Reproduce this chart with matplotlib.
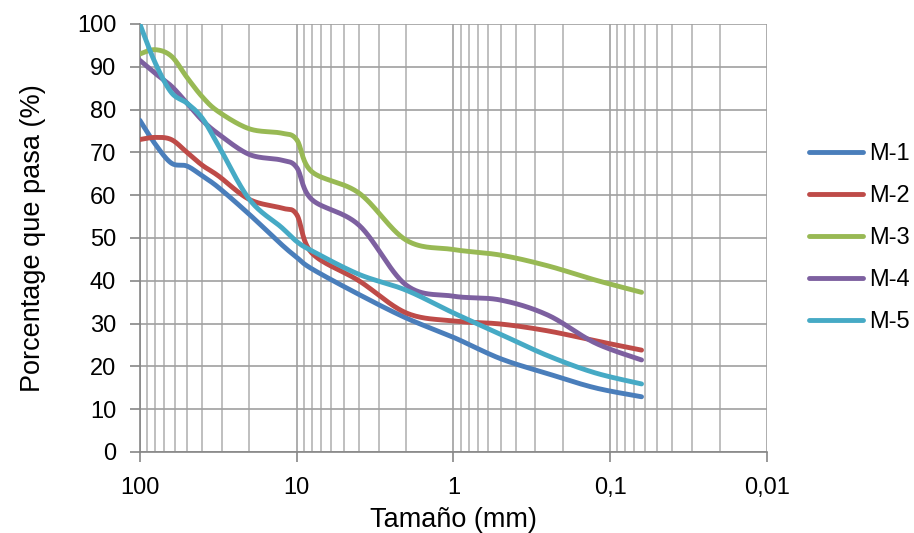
import numpy as np
import matplotlib
matplotlib.use('Agg')
import matplotlib.pyplot as plt
from matplotlib.ticker import FixedLocator, FixedFormatter, LogLocator, NullFormatter

plt.rcParams['font.family'] = ['Liberation Sans', 'DejaVu Sans']

# Sieve sizes (mm) and percentage passing for each mix
sizes = [100, 80, 63, 50, 40, 31.5, 20, 12.5, 10, 8, 4, 2, 1, 0.5, 0.25, 0.125, 0.063]
m1 = [77.5, 72, 67.5, 66.8, 64.5, 61.8, 55.5, 48.5, 45.5, 42.8, 36.8, 31.3, 26.8, 21.8, 18.3, 15, 12.9]
m2 = [73, 73.5, 73, 70, 67, 64.5, 59, 57, 55.5, 46.5, 40, 32.5, 30.6, 29.9, 28.3, 26, 23.8]
m3 = [93, 94, 92.5, 87.5, 83, 79.5, 75.5, 74.5, 73, 65.5, 60.5, 49.5, 47.3, 46, 43.5, 40.2, 37.3]
m4 = [91.5, 88.5, 85.5, 81.5, 77.5, 74.3, 69.5, 68.2, 66.5, 59, 53, 39, 36.4, 35.5, 32, 25.5, 21.5]
m5 = [100, 91, 84, 81.5, 78, 71.6, 59, 52.5, 49.2, 47, 41.5, 37.8, 32.5, 27.5, 22.5, 18.5, 15.9]

labels = ['M-1', 'M-2', 'M-3', 'M-4', 'M-5']
colors = ['#4A7EBB', '#BE4B48', '#98B954', '#7D60A0', '#46AAC5']


def smooth_curve(x, y, n=30):
    # Excel-like smoothed line: Catmull-Rom bezier in (log x, y) scaled to screen proportions
    u = (2 - np.log10(np.asarray(x, dtype=float))) * 157.0
    v = np.asarray(y, dtype=float) * 4.28
    pts = np.column_stack([u, v])
    out = []
    for i in range(len(pts) - 1):
        p0 = pts[i - 1] if i > 0 else pts[i]
        p1 = pts[i]
        p2 = pts[i + 1]
        p3 = pts[i + 2] if i + 2 < len(pts) else pts[i + 1]
        c1 = p1 + (p2 - p0) / 6.0
        c2 = p2 - (p3 - p1) / 6.0
        t = np.linspace(0, 1, n, endpoint=False)[:, None]
        seg = ((1 - t) ** 3) * p1 + 3 * ((1 - t) ** 2) * t * c1 + 3 * (1 - t) * t ** 2 * c2 + t ** 3 * p2
        out.append(seg)
    out.append(pts[-1:])
    out = np.vstack(out)
    return 10 ** (2 - out[:, 0] / 157.0), out[:, 1] / 4.28


fig = plt.figure(figsize=(9.14, 5.33), dpi=100)
ax = fig.add_axes([0.153, 0.152, 0.686, 0.803])

for series, label, color in zip([m1, m2, m3, m4, m5], labels, colors):
    xs, ys = smooth_curve(sizes, series)
    ax.plot(xs, ys, color=color, lw=3.5, label=label, solid_capstyle='round', zorder=3)

ax.set_xscale('log')
ax.set_xlim(100, 0.01)
ax.set_ylim(0, 100)

ax.xaxis.set_major_locator(FixedLocator([100, 10, 1, 0.1, 0.01]))
ax.xaxis.set_major_formatter(FixedFormatter(['100', '10', '1', '0,1', '0,01']))
ax.xaxis.set_minor_locator(LogLocator(base=10, subs=np.arange(2, 10)))
ax.xaxis.set_minor_formatter(NullFormatter())
ax.set_yticks(range(0, 101, 10))

ax.grid(True, which='major', axis='both', color='#A0A0A0', lw=1.2)
ax.grid(True, which='minor', axis='x', color='#B4B4B4', lw=1.2)
ax.set_axisbelow(True)

for side in ['top', 'right']:
    ax.spines[side].set_visible(False)
for side in ['left', 'bottom']:
    ax.spines[side].set_color('#868686')
    ax.spines[side].set_linewidth(1.2)

ax.tick_params(axis='both', which='major', labelsize=17, color='#868686', length=7, width=1.2)
ax.tick_params(axis='x', which='minor', length=0)
ax.tick_params(axis='x', which='major', pad=11)
ax.tick_params(axis='y', which='major', pad=10)

ax.set_xlabel('Tamaño (mm)', fontsize=19.5, labelpad=6)
ax.set_ylabel('Porcentage que pasa (%)', fontsize=19.5, labelpad=22)

ax.legend(loc='center left', bbox_to_anchor=(1.033, 0.5), frameon=False, fontsize=17,
          handlelength=2.3, handletextpad=0.25, labelspacing=0.85)

fig.savefig('out.png', dpi=100)
